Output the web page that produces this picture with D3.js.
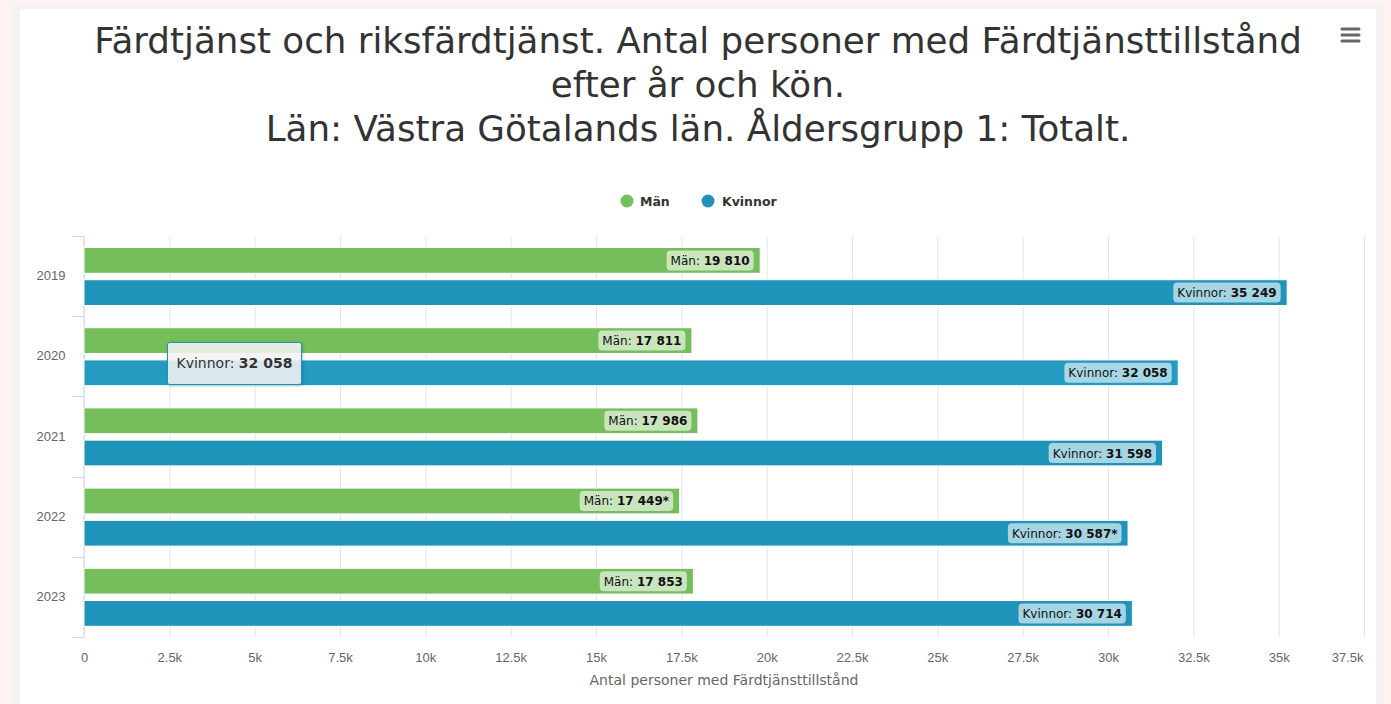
<!DOCTYPE html>
<html lang="sv">
<head>
<meta charset="utf-8">
<script src="https://cdn.jsdelivr.net/npm/d3@7"></script>
<style>
  html, body { margin: 0; padding: 0; background: #fff3f2; }
  svg { display: block; font-family: "DejaVu Sans", Verdana, sans-serif; }
</style>
</head>
<body>
<svg id="chart" width="1391" height="704"></svg>
<script>
// Chart data
const years = ["2019", "2020", "2021", "2022", "2023"];
const seriesNames = ["Män", "Kvinnor"];
const men = [19810, 17811, 17986, 17449, 17853];
const women = [35249, 32058, 31598, 30587, 30714];
const preliminary = [false, false, false, true, false]; // marked with "*"
const xTicks = [0, 2500, 5000, 7500, 10000, 12500, 15000, 17500, 20000, 22500, 25000, 27500, 30000, 32500, 35000, 37500];
const titleLines = [
  "Färdtjänst och riksfärdtjänst. Antal personer med Färdtjänsttillstånd",
  "efter år och kön.",
  "Län: Västra Götalands län. Åldersgrupp 1: Totalt."
];
const xTitle = "Antal personer med Färdtjänsttillstånd";
const colors = { "Män": "#75be5b", "Kvinnor": "#1f93b9" };
const hoverColor = "#259bc2";
const tooltipPoint = { year: "2020", series: "Kvinnor" };

const svg = d3.select("#chart");
const W = 1391, H = 704;

// Page frame
svg.append("rect").attr("x", 12).attr("y", 4).attr("width", 1371).attr("height", H).attr("fill", "#f3f3f3");
svg.append("rect").attr("x", 20).attr("y", 9).attr("width", 1356).attr("height", H).attr("fill", "#ffffff");

// Title
const title = svg.append("text")
  .attr("text-anchor", "middle")
  .attr("fill", "#333333")
  .style("font-size", "35.7px");
titleLines.forEach((t, i) => {
  title.append("tspan").attr("x", 698).attr("y", 53 + i * 44).text(t);
});

// Menu icon
const menu = svg.append("g").attr("stroke", "#666").attr("stroke-width", 3).attr("stroke-linecap", "round");
[29, 35, 41].forEach(yy => menu.append("line").attr("x1", 1342).attr("x2", 1359).attr("y1", yy).attr("y2", yy));

// Legend
const legendItems = [{ name: "Män", cx: 627, tx: 640 }, { name: "Kvinnor", cx: 708, tx: 722 }];
const legend = svg.append("g");
legendItems.forEach(d => {
  legend.append("circle").attr("cx", d.cx).attr("cy", 201).attr("r", 6.5).attr("fill", colors[d.name]);
  legend.append("text").attr("x", d.tx).attr("y", 205.5)
    .attr("fill", "#333").style("font-size", "12.5px").style("font-weight", "bold").text(d.name);
});

// Scales
const plot = { left: 84, right: 1364, top: 236, bottom: 637 };
const x = d3.scaleLinear().domain([0, 37500]).range([plot.left, plot.right]);
const y0 = d3.scaleBand().domain(years).range([plot.top, plot.bottom]);
const y1 = d3.scaleBand().domain(seriesNames).range([11.5, 69.5]).paddingInner(0.2);

// Vertical gridlines + value axis labels
const xAxis = svg.append("g")
  .attr("transform", `translate(0,${plot.bottom})`)
  .call(d3.axisBottom(x).tickValues(xTicks).tickSize(-(plot.bottom - plot.top)).tickPadding(16)
    .tickFormat(d => d === 0 ? "0" : (d / 1000) + "k"));
xAxis.select(".domain").remove();
xAxis.selectAll(".tick line").attr("stroke", "#e6e6e6");
xAxis.selectAll(".tick text").attr("fill", "#666").style("font-size", "13px").attr("font-family", null);
// keep the last label inside the chart area
xAxis.selectAll(".tick text").filter(d => d === xTicks[xTicks.length - 1])
  .attr("text-anchor", "end").attr("x", -1);

// Value axis title
svg.append("text").attr("x", (plot.left + plot.right) / 2).attr("y", 685)
  .attr("text-anchor", "middle").attr("fill", "#666").style("font-size", "14px").text(xTitle);

// Category axis
const yAxis = svg.append("g")
  .attr("transform", `translate(${plot.left - 0.5},0)`)
  .call(d3.axisLeft(y0).tickSize(0).tickPadding(18));
yAxis.select(".domain").attr("stroke", "#ccd6eb");
yAxis.selectAll(".tick text").attr("fill", "#666").style("font-size", "13px").attr("font-family", null);
// tick marks between categories
const bounds = years.map(yr => y0(yr)).concat([y0(years[years.length - 1]) + y0.bandwidth()]);
yAxis.selectAll("line.cat-tick").data(bounds).join("line")
  .attr("class", "cat-tick")
  .attr("x1", -11).attr("x2", 0)
  .attr("y1", d => Math.round(d) + 0.5).attr("y2", d => Math.round(d) + 0.5)
  .attr("stroke", "#ccd6eb");

// Flatten bars
const bars = [];
years.forEach((yr, i) => {
  bars.push({ year: yr, series: "Män", value: men[i], star: preliminary[i] });
  bars.push({ year: yr, series: "Kvinnor", value: women[i], star: preliminary[i] });
});

const barG = svg.append("g");
barG.selectAll("rect").data(bars).join("rect")
  .attr("x", x(0))
  .attr("y", d => y0(d.year) + y1(d.series))
  .attr("width", d => x(d.value) - x(0))
  .attr("height", y1.bandwidth())
  .attr("fill", d => (d.year === tooltipPoint.year && d.series === tooltipPoint.series) ? hoverColor : colors[d.series])
  .attr("stroke", "#ffffff")
  .attr("stroke-width", 1);

// Number format with space as thousands separator
const fmt = v => d3.format(",")(v).replace(/,/g, " ");

// Data labels inside bar ends
const labelG = svg.append("g");
bars.forEach(d => {
  const g = labelG.append("g");
  const t = g.append("text").attr("fill", "#111").style("font-size", "12px");
  t.append("tspan").text(d.series + ": ");
  t.append("tspan").style("font-weight", "bold").text(fmt(d.value) + (d.star ? "*" : ""));
  const w = t.node().getComputedTextLength();
  const padX = 4, h = 20;
  const right = x(d.value) - 6.5;
  const cy = y0(d.year) + y1(d.series) + y1.bandwidth() / 2;
  g.insert("rect", "text")
    .attr("x", right - w - 2 * padX).attr("y", cy - h / 2)
    .attr("width", w + 2 * padX).attr("height", h)
    .attr("rx", 4).attr("fill", "rgba(255,255,255,0.6)");
  t.attr("x", right - w - padX).attr("y", cy + 4.5);
});

// Tooltip for the highlighted point
const ti = years.indexOf(tooltipPoint.year);
const tv = tooltipPoint.series === "Kvinnor" ? women[ti] : men[ti];
const defs = svg.append("defs");
const filt = defs.append("filter").attr("id", "tt-shadow").attr("x", "-20%").attr("y", "-20%").attr("width", "140%").attr("height", "160%");
filt.append("feDropShadow").attr("dx", 1).attr("dy", 1).attr("stdDeviation", 1.5).attr("flood-color", "#000").attr("flood-opacity", 0.25);
const tt = svg.append("g").attr("transform", "translate(167.5,342.5)");
const ttText = tt.append("text").attr("x", 9).attr("y", 25).attr("fill", "#333").style("font-size", "14px");
ttText.append("tspan").text(tooltipPoint.series + ": ");
ttText.append("tspan").style("font-weight", "bold").text(fmt(tv));
const tw = ttText.node().getComputedTextLength();
tt.insert("rect", "text").attr("width", tw + 18).attr("height", 42).attr("rx", 2)
  .attr("fill", "rgba(247,247,247,0.85)").attr("stroke", colors[tooltipPoint.series]).attr("stroke-width", 1)
  .attr("filter", "url(#tt-shadow)");
</script>
</body>
</html>
